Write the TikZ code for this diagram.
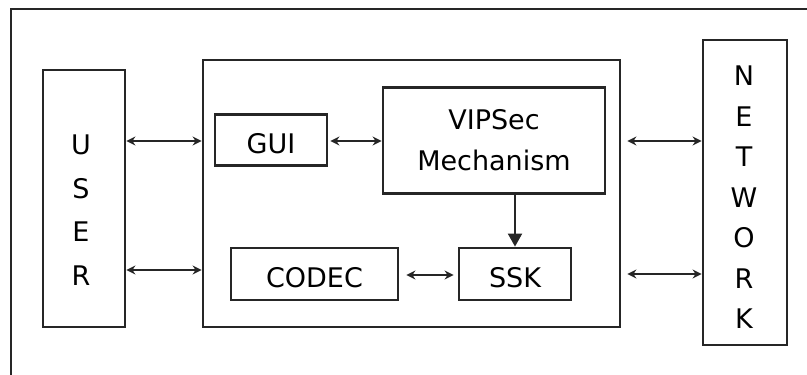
\documentclass[tikz,border=0pt]{standalone}
\usepackage{fontspec}
\setmainfont{DejaVu Sans}
\usetikzlibrary{arrows.meta}
\begin{document}
\begin{tikzpicture}[x=1pt,y=-1pt,
  blk/.style={draw=black!85, line width=2.8pt, rectangle, inner sep=0pt, font=\fontsize{27}{41}\selectfont, align=center},
  low/.style={text height=26pt, text depth=0pt},
  vtext/.style={inner sep=0pt, align=center, font=\fontsize{27}{42}\selectfont},
  dbl/.style={draw=black!85, line width=2pt, {Stealth[length=9pt,width=9pt]}-{Stealth[length=9pt,width=9pt]}},
  down/.style={draw=black!85, line width=2pt, -{Triangle[length=13pt,width=14pt]}},
  frame/.style={draw=black!85, line width=2.4pt}]
\useasboundingbox (0,0) rectangle (807,375);
\draw[frame] (11,375) -- (11,9) -- (807,9);
% boxes
\node[blk, minimum width=82pt, minimum height=257pt] (user) at (84,198.5) {};
\node[vtext, font=\fontsize{27}{43.6}\selectfont] (usertxt) at (81,210) {U\\S\\E\\R};
\node[blk, minimum width=417pt, minimum height=267pt] (main) at (411.5,193.5) {};
\node[blk, low, minimum width=112pt, minimum height=51pt] (gui) at (271,140) {GUI};
\node[blk, minimum width=222pt, minimum height=106pt] (vip) at (494,140.5) {VIPSec\\Mechanism};
\node[blk, low, minimum width=167pt, minimum height=52pt] (codec) at (314.5,274) {CODEC};
\node[blk, low, minimum width=112pt, minimum height=52pt] (ssk) at (515,274) {SSK};
\node[blk, minimum width=84pt, minimum height=305pt] (net) at (745,192.5) {};
\node[vtext, font=\fontsize{27}{40.5}\selectfont] (nettxt) at (744,197.5) {N\\E\\T\\W\\O\\R\\K};
% rows
\coordinate (r1) at (0,141);
\coordinate (r2) at (0,270);
\coordinate (r3) at (0,274);
\coordinate (r4) at (0,275);
% connectors
\draw[dbl] (user.east |- r1) -- (main.west |- r1);
\draw[dbl] (user.east |- r2) -- (main.west |- r2);
\draw[dbl, shorten <=6pt] (main.east |- r1) -- (net.west |- r1);
\draw[dbl, shorten <=6pt] (main.east |- r3) -- (net.west |- r3);
\draw[dbl, shorten <=2pt] (gui.east |- r1) -- (vip.west |- r1);
\draw[dbl, shorten <=7pt, shorten >=4pt] (codec.east |- r4) -- (ssk.west |- r4);
\draw[down] (vip.south -| ssk.north) -- (ssk.north);
\end{tikzpicture}
\end{document}
